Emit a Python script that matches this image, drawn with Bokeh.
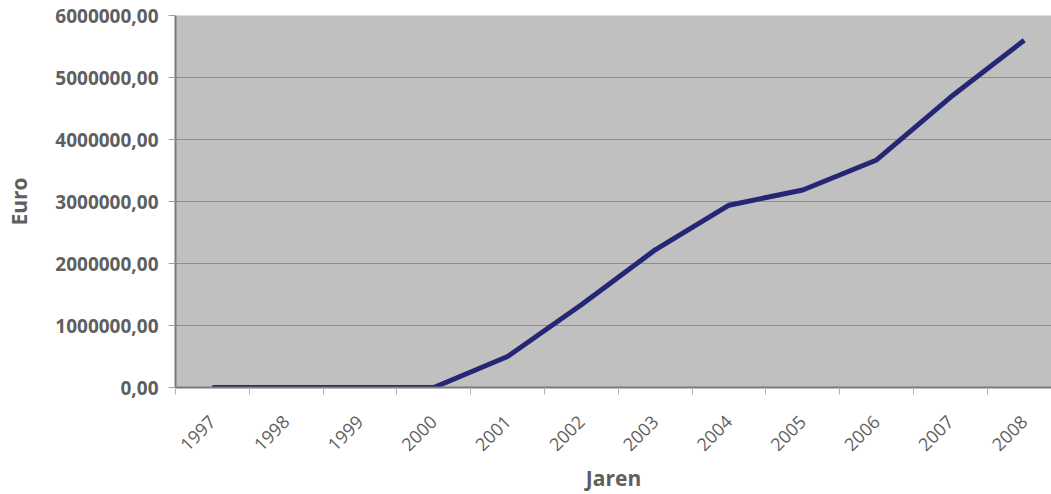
import math
from bokeh.plotting import figure
from bokeh.models import Range1d, FixedTicker, ColumnDataSource
from bokeh.embed import file_html
from bokeh.resources import INLINE

years = ["1997", "1998", "1999", "2000", "2001", "2002", "2003", "2004", "2005", "2006", "2007", "2008"]
euro = [0, 0, 0, 0, 500000, 1335000, 2220000, 2940000, 3185000, 3670000, 4680000, 5600000]
y_ticks = [0, 1000000, 2000000, 3000000, 4000000, 5000000, 6000000]
y_tick_labels = ["0,00", "1000000,00", "2000000,00", "3000000,00", "4000000,00", "5000000,00", "6000000,00"]

xs = [i + 0.5 for i in range(len(years))]
src = ColumnDataSource(dict(x=xs, y=euro))

p = figure(width=1051, height=494, output_backend="svg", toolbar_location=None,
           x_range=Range1d(0, 11.87), y_range=Range1d(0, 6000000),
           min_border_left=175, min_border_right=0, min_border_top=15, min_border_bottom=106)

p.border_fill_color = "white"
p.background_fill_color = "#c0c0c0"
p.outline_line_color = None

p.line("x", "y", source=src, line_color="#252775", line_width=5)

text_col = "#5f5f5f"
font = "Open Sans"

# x axis
p.xaxis.ticker = FixedTicker(ticks=xs, minor_ticks=list(range(len(years) + 1)))
p.xaxis.major_label_overrides = {x: y for x, y in zip(xs, years)}
p.xaxis.major_label_orientation = math.pi / 4
p.xaxis.major_tick_line_color = None
p.xaxis.minor_tick_line_color = "#b0b0b0"
p.xaxis.minor_tick_out = 7
p.xaxis.minor_tick_in = 0
p.xaxis.axis_line_color = "#7a7a7a"
p.xaxis.axis_line_width = 2
p.xaxis.major_label_text_font = font
p.xaxis.major_label_text_font_size = "18px"
p.xaxis.major_label_text_color = text_col
p.xaxis.major_label_standoff = 24
p.xaxis.axis_label = "Jaren"
p.xaxis.axis_label_text_font = font
p.xaxis.axis_label_text_font_size = "21px"
p.xaxis.axis_label_text_font_style = "bold"
p.xaxis.axis_label_text_color = text_col
p.xaxis.axis_label_standoff = 4

# y axis
p.yaxis.ticker = FixedTicker(ticks=y_ticks)
p.yaxis.major_label_overrides = {t: l for t, l in zip(y_ticks, y_tick_labels)}
p.yaxis.major_tick_line_color = "#a0a0a0"
p.yaxis.major_tick_out = 7
p.yaxis.major_tick_in = 0
p.yaxis.minor_tick_line_color = None
p.yaxis.axis_line_color = "#7a7a7a"
p.yaxis.axis_line_width = 2
p.yaxis.major_label_text_font = font
p.yaxis.major_label_text_font_size = "19px"
p.yaxis.major_label_text_font_style = "bold"
p.yaxis.major_label_text_color = text_col
p.yaxis.major_label_standoff = 10
p.yaxis.axis_label = "Euro"
p.yaxis.axis_label_text_font = font
p.yaxis.axis_label_text_font_size = "21px"
p.yaxis.axis_label_text_font_style = "bold"
p.yaxis.axis_label_text_color = text_col
p.yaxis.axis_label_standoff = 19

p.xgrid.grid_line_color = None
p.ygrid.grid_line_color = "#8e8e8e"
p.ygrid.grid_line_width = 1

open("out.html", "w").write(file_html(p, INLINE))
